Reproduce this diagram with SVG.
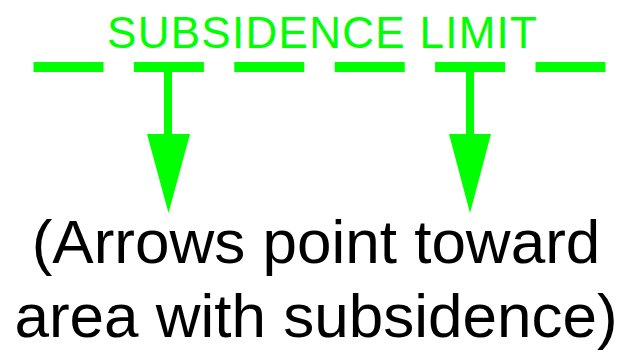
<svg xmlns="http://www.w3.org/2000/svg" width="627" height="352" viewBox="0 0 627 352">
  <style>
    .green { fill: #00FF00; }
    .limit { stroke: #00FF00; stroke-width: 10; stroke-dasharray: 70 30.4; fill: none; }
    .stem { stroke: #00FF00; stroke-width: 8; fill: none; }
    .title { font-family: "Liberation Sans", Arial, sans-serif; font-size: 44px; fill: #00FF00; }
    .note { font-family: "Liberation Sans", Arial, sans-serif; font-size: 62px; fill: #000000; }
  </style>
  <rect width="627" height="352" fill="#FFFFFF"/>
  <g id="title">
    <text class="title" x="322" y="48" text-anchor="middle" textLength="430" lengthAdjust="spacing">SUBSIDENCE LIMIT</text>
  </g>
  <g id="subsidence-limit">
    <line class="limit" x1="33.5" y1="67" x2="605.5" y2="67"/>
  </g>
  <g id="connectors">
    <g id="arrow-left">
      <line class="stem" x1="168" y1="72" x2="168" y2="135"/>
      <polygon class="green" points="147,134 190,134 168.5,213"/>
    </g>
    <g id="arrow-right">
      <line class="stem" x1="470" y1="72" x2="470" y2="135"/>
      <polygon class="green" points="449,134 491,134 470,213"/>
    </g>
  </g>
  <g id="note">
    <text class="note" x="316" y="263" text-anchor="middle">(Arrows point toward</text>
    <text class="note" x="316" y="337" text-anchor="middle">area with subsidence)</text>
  </g>
</svg>
